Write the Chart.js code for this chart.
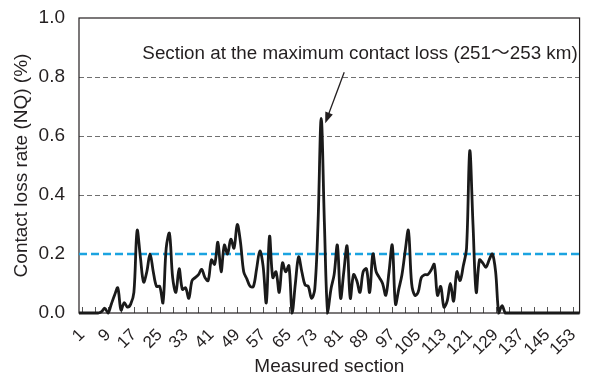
<!DOCTYPE html>
<html>
<head>
<meta charset="utf-8">
<script src="https://cdn.jsdelivr.net/npm/chart.js@4.4.1/dist/chart.umd.min.js"></script>
<style>
  html, body { margin: 0; padding: 0; background: #fff; }
  #wrap { width: 598px; height: 374px; }
</style>
</head>
<body>
<div id="wrap"><canvas id="lossChart" width="598" height="374"></canvas></div>
<script>
// measured sections along the line (0 = start of the run)
const sections = [];
for (let s = 0; s <= 155; s++) sections.push(String(s));

// contact loss rate NQ (%) per section
const lossRate = [
  0, 0, 0, 0, 0, 0, 0, 0.005, 0.016, 0,
  0.03, 0.06, 0.085, 0.01, 0.035, 0.02, 0.03, 0.07, 0.28, 0.19,
  0.105, 0.14, 0.2, 0.14, 0.09, 0.09, 0.035, 0.22, 0.27, 0.12,
  0.07, 0.15, 0.08, 0.085, 0.05, 0.11, 0.12, 0.13, 0.148, 0.12,
  0.11, 0.18, 0.165, 0.24, 0.14, 0.23, 0.2, 0.25, 0.22, 0.3,
  0.24, 0.14, 0.115, 0.09, 0.09, 0.15, 0.21, 0.16, 0.035, 0.26,
  0.12, 0.14, 0.07, 0.17, 0.14, 0.16, 0, 0.1, 0.19, 0.14,
  0.095, 0.09, 0.05, 0.08, 0.3, 0.66, 0.3, 0, 0.08, 0.13,
  0.23, 0.05, 0.14, 0.227, 0.05, 0.13, 0.11, 0.07, 0.14, 0.15,
  0.07, 0.2, 0.14, 0.12, 0.1, 0.06, 0.14, 0.23, 0.03, 0.08,
  0.13, 0.21, 0.28, 0.1, 0.06, 0.07, 0.12, 0.13, 0.13, 0.145,
  0.165, 0.06, 0.09, 0.02, 0.04, 0.1, 0.04, 0.14, 0.11, 0.16,
  0.22, 0.55, 0.3, 0.07, 0.18, 0.17, 0.155, 0.18, 0.2, 0.14,
  0, 0.025, 0, 0, 0, 0, 0, 0, 0, 0,
  0, 0, 0, 0, 0, 0, 0, 0, 0, 0,
  0, 0, 0, 0, 0, 0
];

const tickLabels = ["1", "9", "17", "25", "33", "41", "49", "57", "65", "73",
  "81", "89", "97", "105", "113", "121", "129", "137", "145", "153"];
const minorTicks = [];
for (let s = 1; s <= 153; s += 4) minorTicks.push(s);

const threshold = 0.2;
const gridValues = [0.4, 0.6, 0.8];
const peakSection = 75;
const peakNote = "Section at the maximum contact loss (251\u301C253 km)";

const FONT = "'Liberation Sans', Arial, 'Noto Sans CJK JP', sans-serif";
const INK = "#231f20";

const framePlugin = {
  id: "frame",
  beforeDatasetsDraw(chart) {
    const { ctx, chartArea: a, scales: { x, y } } = chart;
    ctx.save();
    ctx.strokeStyle = "#707070";
    ctx.lineWidth = 1;
    ctx.setLineDash([5, 3]);
    gridValues.forEach((v) => {
      const py = Math.round(y.getPixelForValue(v)) + 0.5;
      ctx.beginPath();
      ctx.moveTo(a.left, py);
      ctx.lineTo(a.right, py);
      ctx.stroke();
    });
    ctx.setLineDash([]);
    ctx.strokeStyle = "#555";
    minorTicks.forEach((s) => {
      const px = Math.round(x.getPixelForValue(s)) + 0.5;
      ctx.beginPath();
      ctx.moveTo(px, a.bottom);
      ctx.lineTo(px, a.bottom - 6);
      ctx.stroke();
    });
    ctx.strokeStyle = INK;
    ctx.lineWidth = 1.2;
    ctx.strokeRect(a.left, a.top, a.right - a.left, a.bottom - a.top);
    ctx.restore();
  },
  afterDatasetsDraw(chart) {
    const { ctx, chartArea: a, scales: { x, y } } = chart;
    ctx.save();
    ctx.fillStyle = INK;
    ctx.font = "18.8px " + FONT;
    ctx.textAlign = "center";
    ctx.textBaseline = "middle";
    ctx.fillText(peakNote, 360, a.top + 36);

    const tx = x.getPixelForValue(peakSection) + 4;
    const ty = y.getPixelForValue(lossRate[peakSection]) + 5;
    const sx = tx + 19, sy = ty - 51;
    const ang = Math.atan2(ty - sy, tx - sx);
    ctx.strokeStyle = INK;
    ctx.lineWidth = 1.3;
    ctx.beginPath();
    ctx.moveTo(sx, sy);
    ctx.lineTo(tx - 8 * Math.cos(ang), ty - 8 * Math.sin(ang));
    ctx.stroke();
    ctx.beginPath();
    ctx.moveTo(tx, ty);
    ctx.lineTo(tx - 11 * Math.cos(ang) + 4 * Math.sin(ang), ty - 11 * Math.sin(ang) - 4 * Math.cos(ang));
    ctx.lineTo(tx - 11 * Math.cos(ang) - 4 * Math.sin(ang), ty - 11 * Math.sin(ang) + 4 * Math.cos(ang));
    ctx.closePath();
    ctx.fill();
    ctx.restore();
  }
};

const ctx = document.getElementById("lossChart").getContext("2d");
new Chart(ctx, {
  type: "line",
  data: {
    labels: sections,
    datasets: [
      {
        label: "Threshold",
        data: sections.map(() => threshold),
        borderColor: "#1ba3e0",
        borderWidth: 2.5,
        borderDash: [8, 4],
        pointRadius: 0,
        tension: 0,
        order: 2
      },
      {
        label: "Contact loss rate",
        data: lossRate,
        borderColor: "#1a1a1a",
        borderWidth: 2.8,
        pointRadius: 0,
        tension: 0.35,
        clip: 8,
        order: 1
      }
    ]
  },
  options: {
    responsive: false,
    animation: false,
    layout: { padding: { top: 18, right: 6, left: 0, bottom: 0 } },
    plugins: { legend: { display: false }, tooltip: { enabled: false } },
    scales: {
      x: {
        type: "category",
        grid: { display: false },
        border: { display: false },
        ticks: {
          autoSkip: false,
          maxRotation: 45,
          minRotation: 45,
          padding: 4,
          color: INK,
          font: { family: FONT, size: 17 },
          callback: function (value) {
            const lbl = this.getLabelForValue(value);
            return tickLabels.includes(lbl) ? lbl : "";
          }
        },
        title: {
          display: true,
          text: "Measured section",
          color: INK,
          font: { family: FONT, size: 19 },
          padding: { top: 0, bottom: -4 }
        },
        afterFit: (scale) => { scale.height = 61; }
      },
      y: {
        min: 0,
        max: 1,
        grid: { display: false },
        border: { display: false },
        ticks: {
          stepSize: 0.2,
          padding: 6,
          color: INK,
          font: { family: FONT, size: 19 },
          callback: (v) => v.toFixed(1)
        },
        title: {
          display: true,
          text: "Contact loss rate (NQ) (%)",
          color: INK,
          font: { family: FONT, size: 19 },
          padding: { top: 10, bottom: 0 }
        },
        afterFit: (scale) => { scale.width = 79; }
      }
    }
  },
  plugins: [framePlugin]
});
</script>
</body>
</html>
